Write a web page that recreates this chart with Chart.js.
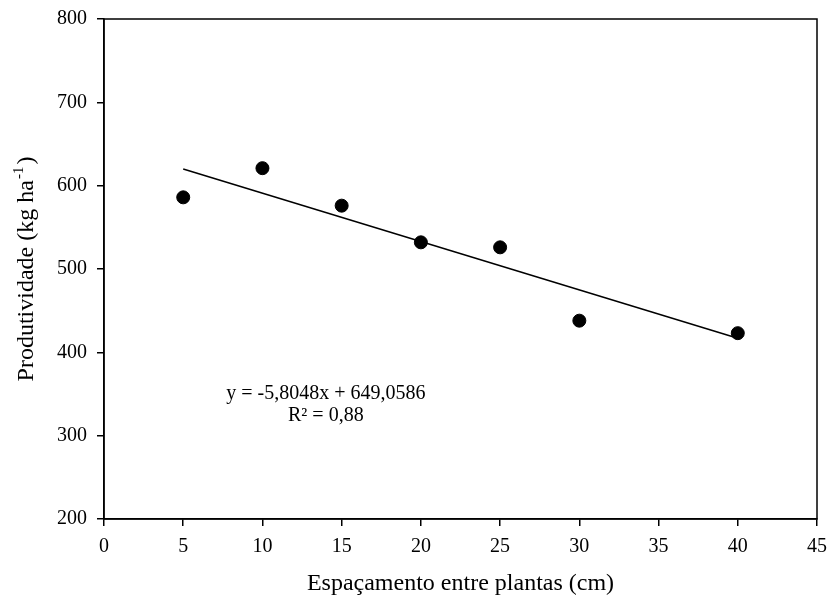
<!DOCTYPE html>
<html>
<head>
<meta charset="utf-8">
<script src="https://cdn.jsdelivr.net/npm/chart.js@4/dist/chart.umd.min.js"></script>
<style>
html,body{margin:0;padding:0;background:#fff;}
#wrap{width:827px;height:601px;position:relative;}
</style>
</head>
<body>
<div id="wrap"><canvas id="c" width="827" height="601"></canvas></div>
<script>
// Data
const spacing = [5, 10, 15, 20, 25, 30, 40];
const yieldValues = [586, 621, 576, 532, 526, 438, 423];
const trendX = [5, 40];
const trendY = [620, 417];
const xTicks = [0, 5, 10, 15, 20, 25, 30, 35, 40, 45];
const yTicks = [200, 300, 400, 500, 600, 700, 800];
const equationText = "y = -5,8048x + 649,0586";
const r2Text = "R² = 0,88";
const xTitle = "Espaçamento entre plantas (cm)";
const yTitleMain = "Produtividade (kg ha";
const yTitleSup = "-1";
const yTitleEnd = ")";

const FONT = "'Liberation Serif', 'Times New Roman', serif";

const framePlugin = {
  id: 'frame',
  afterDraw(chart) {
    const {ctx, chartArea: a} = chart;
    ctx.save();
    ctx.strokeStyle = '#000';
    ctx.lineWidth = 1.5;
    ctx.strokeRect(a.left, a.top, a.right - a.left, a.bottom - a.top);
    // annotation text
    const xs = chart.scales.x, ys = chart.scales.y;
    ctx.fillStyle = '#000';
    ctx.font = "20px " + FONT;
    ctx.textAlign = 'center';
    ctx.textBaseline = 'middle';
    const cx = xs.getPixelForValue(14.0);
    ctx.fillText(equationText, cx, ys.getPixelForValue(350));
    ctx.fillText(r2Text, cx, ys.getPixelForValue(324));
    // y title with superscript
    ctx.translate(33, (a.top + a.bottom) / 2);
    ctx.rotate(-Math.PI / 2);
    ctx.textAlign = 'left';
    ctx.textBaseline = 'alphabetic';
    ctx.font = "24px " + FONT;
    const w1 = ctx.measureText(yTitleMain).width;
    ctx.font = "15px " + FONT;
    const w2 = ctx.measureText(yTitleSup).width;
    ctx.font = "24px " + FONT;
    const w3 = ctx.measureText(yTitleEnd).width;
    let x0 = -(w1 + w2 + w3 + 3) / 2;
    ctx.fillText(yTitleMain, x0, 0);
    ctx.font = "15px " + FONT;
    ctx.fillText(yTitleSup, x0 + w1 + 1, -10);
    ctx.font = "24px " + FONT;
    ctx.fillText(yTitleEnd, x0 + w1 + w2 + 3, 0);
    ctx.restore();
  }
};

new Chart(document.getElementById('c'), {
  type: 'scatter',
  data: {
    datasets: [
      {
        label: 'Produtividade',
        data: spacing.map((x, i) => ({x: x, y: yieldValues[i]})),
        backgroundColor: '#000',
        borderColor: '#000',
        pointRadius: 6.5,
        pointHoverRadius: 6.5,
        showLine: false,
        order: 1
      },
      {
        label: 'Tendência',
        data: trendX.map((x, i) => ({x: x, y: trendY[i]})),
        borderColor: '#000',
        borderWidth: 1.5,
        pointRadius: 0,
        showLine: true,
        fill: false,
        order: 2
      }
    ]
  },
  options: {
    responsive: false,
    animation: false,
    events: [],
    layout: {padding: {left: 0, top: 19, right: 10, bottom: 0}},
    plugins: {legend: {display: false}, tooltip: {enabled: false}},
    scales: {
      x: {
        type: 'linear',
        min: 0, max: 45,
        afterBuildTicks(s) { s.ticks = xTicks.map(v => ({value: v})); },
        afterFit(s) { s.height = 82; s.paddingRight = 0; s.paddingLeft = 0; },
        border: {display: true, color: '#000', width: 1.5},
        grid: {display: true, drawOnChartArea: false, drawTicks: true, tickLength: 7, color: '#000', lineWidth: 1.5},
        ticks: {color: '#000', font: {family: FONT, size: 20}, padding: 9, maxRotation: 0},
        title: {display: true, text: xTitle, color: '#000', font: {family: FONT, size: 24}, padding: {top: 0, bottom: 3}}
      },
      y: {
        type: 'linear',
        min: 200, max: 800,
        afterBuildTicks(s) { s.ticks = yTicks.map(v => ({value: v})); },
        afterFit(s) { s.width = 104; s.paddingTop = 0; s.paddingBottom = 0; },
        border: {display: true, color: '#000', width: 1.5},
        grid: {display: true, drawOnChartArea: false, drawTicks: true, tickLength: 7, color: '#000', lineWidth: 1.5},
        ticks: {color: '#000', font: {family: FONT, size: 20}, padding: 10}
      }
    }
  },
  plugins: [framePlugin]
});
</script>
</body>
</html>
